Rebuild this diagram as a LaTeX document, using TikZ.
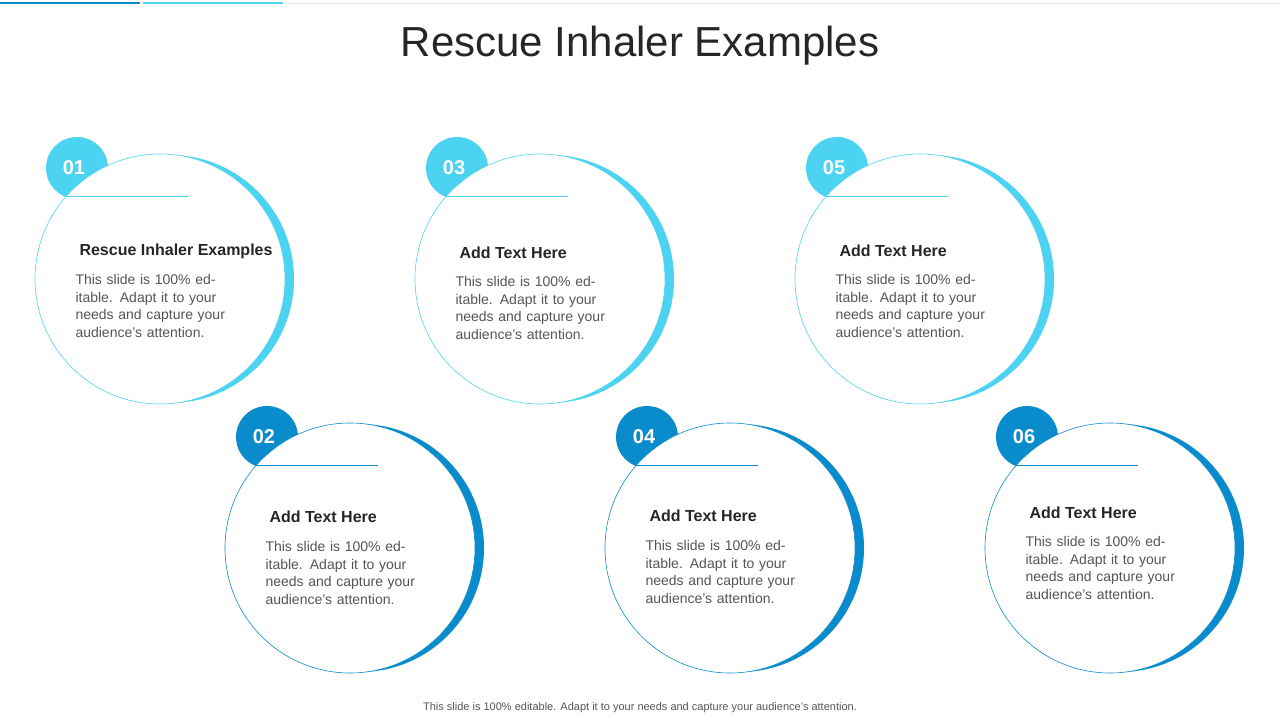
\documentclass[tikz,border=0pt]{standalone}
\usepackage{fontspec}
\setmainfont{Liberation Sans}
\definecolor{lb}{HTML}{4DD3F2}
\definecolor{db}{HTML}{0A8BCB}
\definecolor{tx}{HTML}{555555}
\begin{document}
\begin{tikzpicture}[x=1pt,y=-1pt,
  num/.style={text=white,font=\fontsize{20}{20}\selectfont\bfseries},
  head/.style={anchor=west,font=\fontsize{16}{18}\selectfont\bfseries,text=black!85},
  body/.style={anchor=north west,align=left,text=tx,font=\fontsize{14}{17.6}\selectfont,text width=170}]
\useasboundingbox (0,0) rectangle (1280,720);
\draw[db,line width=2] (0,3) -- (140,3);
\draw[lb,line width=2] (143,3) -- (283,3);
\draw[black!10] (283,3) -- (1280,3);
\node[font=\fontsize{42}{42}\selectfont,text=black!85] (title) at (640,46) {Rescue Inhaler Examples};
\foreach \cx/\cy/\c/\n/\h/\hy/\by [count=\i] in {
 160/279/lb/01/Rescue Inhaler Examples/251/271,
 540/279/lb/03/Add Text Here/253/273,
 920/279/lb/05/Add Text Here/251/271,
 350/548/db/02/Add Text Here/517/538,
 730/548/db/04/Add Text Here/516/537,
 1110/548/db/06/Add Text Here/513/533}{
 \fill[\c] (\cx+10,\cy) circle (124);
 \fill[\c] (\cx-83,\cy-111) circle (31);
 \node[num] (n\i) at (\cx-86,\cy-111) {\n};
 \filldraw[fill=white,draw=\c,line width=0.6] (\cx,\cy) circle (125);
 \draw[\c,line width=0.8] (\cx-95,\cy-83) -- (\cx+28,\cy-83);
 \node[head] (h\i) at (\cx-84,\hy) {\h};
 \node[body] (b\i) at (\cx-88,\by) {This slide is 100\% editable. Adapt it to your needs and capture your audience's attention.};
}
\node[text=tx,font=\fontsize{11}{12}\selectfont] (foot) at (640,708) {This slide is 100\% editable. Adapt it to your needs and capture your audience's attention.};
\end{tikzpicture}
\end{document}
